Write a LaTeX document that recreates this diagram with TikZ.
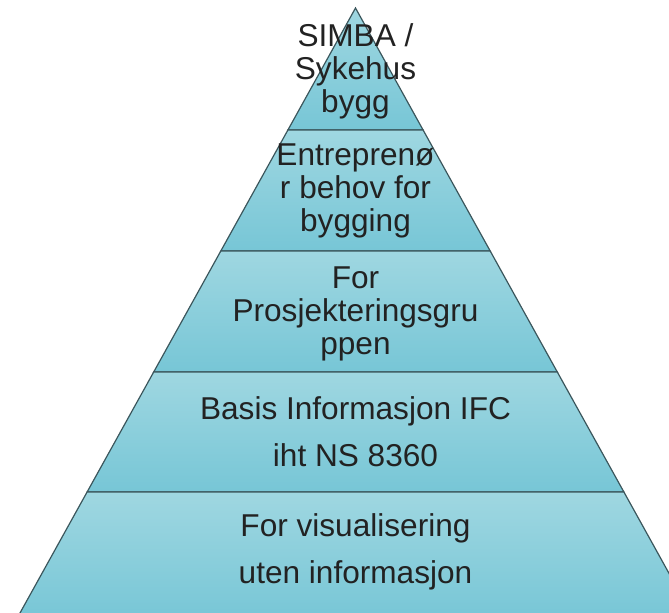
\documentclass[tikz,border=0pt]{standalone}
\usepackage{fontspec}
\setmainfont{Liberation Sans}
\definecolor{bandtop}{HTML}{9FD7E1}
\definecolor{bandbot}{HTML}{77C6D6}
\definecolor{edgegray}{HTML}{3B565C}
\definecolor{textgray}{HTML}{222222}
\begin{document}
\begin{tikzpicture}[x=0.5pt,y=-0.5pt,
  band/.style={top color=bandtop, bottom color=bandbot, draw=edgegray, line width=0.6pt},
  tight/.style={text=textgray, align=center, inner sep=0pt, font=\fontsize{15.8}{16.5}\selectfont},
  loose/.style={text=textgray, align=center, inner sep=0pt, font=\fontsize{15.8}{23.5}\selectfont}]
\useasboundingbox (0,0) rectangle (669,612);
\clip (0,0) rectangle (669,612);
% pyramid bands, top to bottom
\shade[band] (355.5,8) -- (423.1,130) -- (287.9,130) -- cycle;
\shade[band] (287.9,130) -- (423.1,130) -- (490.2,251) -- (220.8,251) -- cycle;
\shade[band] (220.8,251) -- (490.2,251) -- (557.3,372) -- (153.7,372) -- cycle;
\shade[band] (153.7,372) -- (557.3,372) -- (623.9,492) -- (87.1,492) -- cycle;
\shade[band] (87.1,492) -- (623.9,492) -- (694.9,620) -- (16.1,620) -- cycle;
% labels
\node[tight] (simba) at (355.5,71) {SIMBA /\\Sykehus\\bygg};
\node[tight] (entreprenor) at (355.5,191) {Entreprenø\\r behov for\\bygging};
\node[tight] (prosjektering) at (355.5,314) {For\\Prosjekteringsgru\\ppen};
\node[loose] (basis) at (355.5,432) {Basis Informasjon IFC\\iht NS 8360};
\node[loose] (visual) at (355.5,552) {For visualisering\\uten informasjon};
\end{tikzpicture}
\end{document}
